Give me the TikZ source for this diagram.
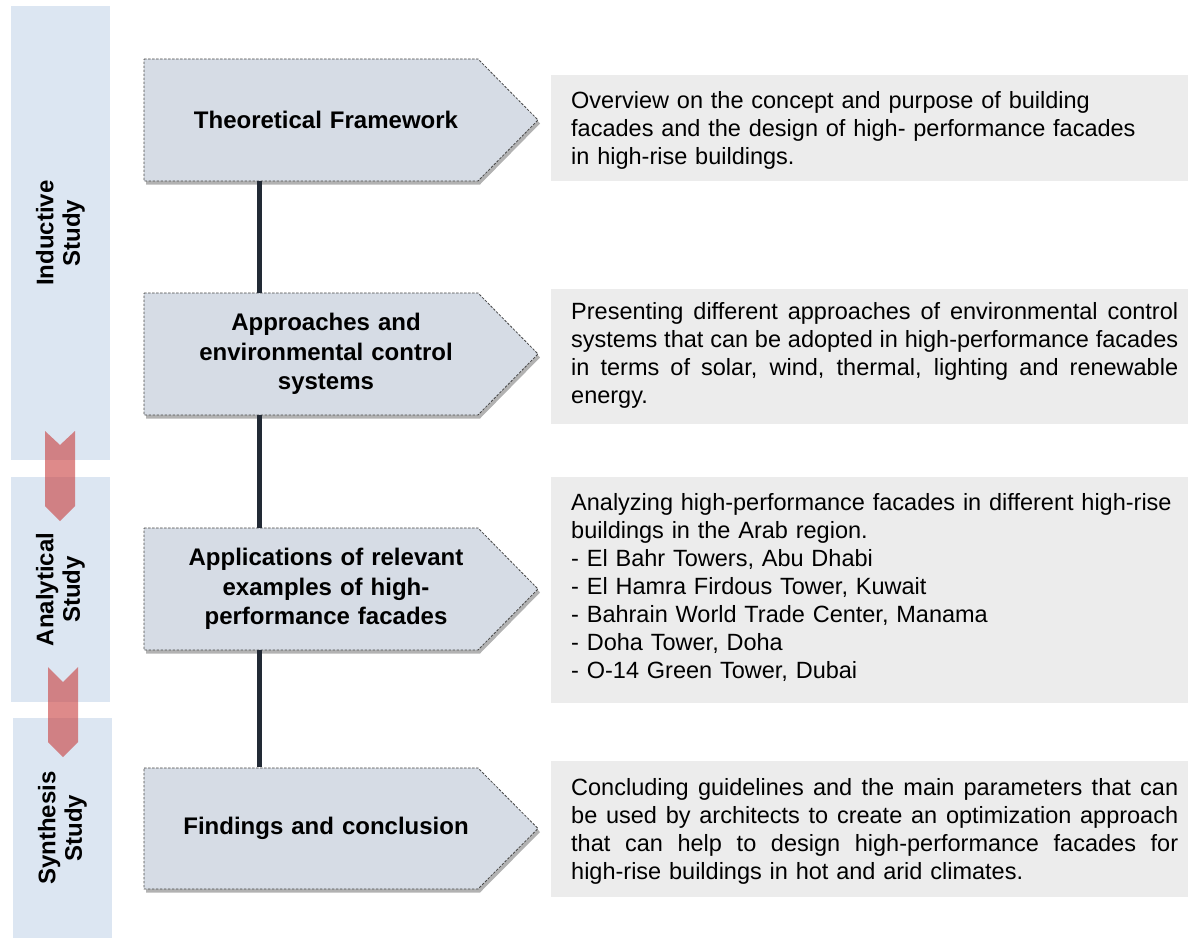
\documentclass[tikz,border=0pt]{standalone}
\usepackage{fontspec}
\setmainfont{Liberation Sans}
\usetikzlibrary{shadows,calc}
\definecolor{barblue}{RGB}{220,230,242}
\definecolor{chev}{RGB}{200,60,60}
\definecolor{pentfill}{RGB}{214,220,229}
\definecolor{pentline}{RGB}{70,70,70}
\definecolor{boxgray}{RGB}{236,236,236}
\definecolor{spinecol}{RGB}{34,42,53}
\newskip\jspace
\jspace=6.5pt plus 8pt minus 2pt
\newcommand{\jline}[1]{\leavevmode{\spaceskip=\jspace\hbox to 607pt{#1}}}
\tikzset{
  phasebar/.style={fill=barblue, draw=none, inner sep=0pt, rotate=90,
    font=\fontsize{24}{26.5}\selectfont\bfseries, align=center},
  chevron/.style={fill=chev, fill opacity=0.6, draw=none},
  pent/.style={fill=pentfill, draw=pentline, line width=0.8pt,
    dash pattern=on 2.5pt off 1.5pt,
    drop shadow={shadow xshift=2pt, shadow yshift=-3.5pt, opacity=0.3, fill=black}},
  pentlabel/.style={font=\fontsize{24}{29.5}\selectfont\bfseries, align=center,
    text width=300pt, minimum height=122pt, inner sep=0pt},
  infobox/.style={fill=boxgray, draw=none, inner sep=0pt, anchor=north west},
  desc/.style={font=\fontsize{23.5}{28}\selectfont,
    align=left, text width=630pt, inner sep=0pt, anchor=west},
  spine/.style={draw=spinecol, line width=5.5pt}
}
\begin{document}
\begin{tikzpicture}[x=1pt,y=-1pt]
\useasboundingbox (0,0) rectangle (1188,938);
\fill[white] (0,0) rectangle (1188,938);

% phase bars
\node[phasebar, minimum width=454pt, minimum height=99pt] (ind) at (60.5,233) {Inductive\\Study};
\node[phasebar, minimum width=225pt, minimum height=99pt] (ana) at (60.5,589.5) {Analytical\\Study};
\node[phasebar, minimum width=220pt, minimum height=99pt] (syn) at (62.5,828) {Synthesis\\Study};

% chevrons
\path[chevron] (45,431) -- (60,445) -- (75,431) -- (75,506) -- (60,521) -- (45,506) -- cycle;
\path[chevron] (48,667) -- (63,682) -- (78,667) -- (78,742) -- (63,757) -- (48,742) -- cycle;

% pentagons
\path[pent] (144,59) -- (478,59) -- (538,120) -- (478,181) -- (144,181) -- cycle;
\path[pent] (144,293) -- (478,293) -- (538,354) -- (478,415) -- (144,415) -- cycle;
\path[pent] (144,528) -- (478,528) -- (538,589) -- (478,650) -- (144,650) -- cycle;
\path[pent] (144,768) -- (478,768) -- (538,828.5) -- (478,889) -- (144,889) -- cycle;

\node[pentlabel] (p1) at (326,120) {Theoretical Framework};
\node[pentlabel] (p2) at (326,354) {Approaches and\\environmental control\\systems};
\node[pentlabel] (p3) at (326,589) {Applications of relevant\\examples of high-\\performance facades};
\node[pentlabel] (p4) at (326,828.5) {Findings and conclusion};

% spine
\coordinate (sx) at (259.5,0);
\draw[spine] (p1.south -| sx) -- (p2.north -| sx);
\draw[spine] (p2.south -| sx) -- (p3.north -| sx);
\draw[spine] (p3.south -| sx) -- (p4.north -| sx);

% description boxes
\node[infobox, minimum width=637pt, minimum height=106pt] (d1) at (551,75) {};
\node[infobox, minimum width=637pt, minimum height=135pt] (d2) at (551,289) {};
\node[infobox, minimum width=637pt, minimum height=226pt] (d3) at (551,477) {};
\node[infobox, minimum width=637pt, minimum height=136pt] (d4) at (551,761) {};

\node[desc] (t1) at ($(d1.west)+(20pt,-2pt)$) {Overview on the concept and purpose of building\\
facades and the design of high- performance facades\\
in high-rise buildings.};
\node[desc] (t2) at ($(d2.west)+(20pt,1.5pt)$) {\jline{Presenting different approaches of environmental control}\\
\jline{systems that can be adopted in high-performance facades}\\
\jline{in terms of solar, wind, thermal, lighting and renewable}\\
energy.};
\node[desc] (t3) at ($(d3.west)+(20pt,2.5pt)$) {Analyzing high-performance facades in different high-rise\\
buildings in the Arab region.\\
- El Bahr Towers, Abu Dhabi\\
- El Hamra Firdous Tower, Kuwait\\
- Bahrain World Trade Center, Manama\\
- Doha Tower, Doha\\
- O-14 Green Tower, Dubai};
\node[desc] (t4) at ($(d4.west)+(20pt,-2pt)$) {\jline{Concluding guidelines and the main parameters that can}\\
\jline{be used by architects to create an optimization approach}\\
\jline{that can help to design high-performance facades for}\\
high-rise buildings in hot and arid climates.};
\end{tikzpicture}
\end{document}
